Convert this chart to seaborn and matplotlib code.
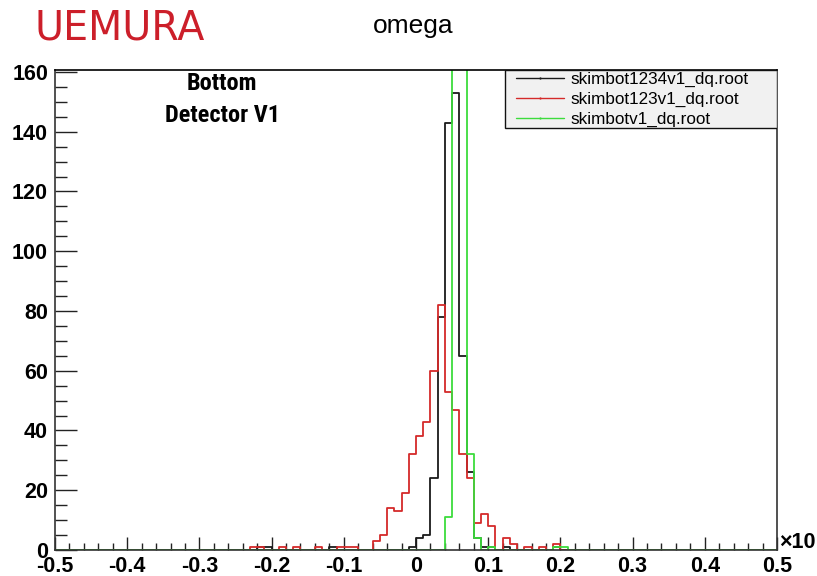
import numpy as np
import pandas as pd
import matplotlib
matplotlib.use("Agg")
import matplotlib.pyplot as plt
from matplotlib.lines import Line2D
from matplotlib.patches import Rectangle
from matplotlib.ticker import MultipleLocator
from matplotlib import font_manager
import seaborn as sns

# ---- histogram data: bin lower edges (bin width 0.01) and counts ----
bin_width = 0.01
x_min, x_max = -0.5, 0.5

black_bins = [-0.22, -0.21, -0.12, -0.01, 0.00, 0.01, 0.02, 0.03, 0.04, 0.05,
              0.06, 0.07, 0.08, 0.09, 0.10, 0.12, 0.19]
black_counts = [1, 1, 1, 1, 4, 5, 24, 78, 143, 153,
                65, 26, 4, 1, 1, 1, 1]

red_bins = [-0.23, -0.22, -0.19, -0.17, -0.14, -0.11, -0.10, -0.09, -0.06, -0.05,
            -0.04, -0.03, -0.02, -0.01, 0.00, 0.01, 0.02, 0.03, 0.04, 0.05,
            0.06, 0.07, 0.08, 0.09, 0.10, 0.12, 0.13, 0.15, 0.17, 0.19]
red_counts = [1, 1, 1, 1, 1, 1, 1, 1, 3, 5,
              14, 13, 19, 32, 38, 43, 60, 82, 53, 47,
              32, 24, 9, 12, 8, 4, 2, 1, 1, 2]

green_bins = [0.04, 0.05, 0.06, 0.07, 0.08, 0.10, 0.19, 0.20]
green_counts = [11, 412, 376, 32, 4, 1, 1, 1]

series_names = ["skimbot1234v1_dq.root", "skimbot123v1_dq.root", "skimbotv1_dq.root"]
series_colors = ["#1a1a1a", "#d42a2a", "#3ddc3d"]

x_ticks = [-0.5, -0.4, -0.3, -0.2, -0.1, 0, 0.1, 0.2, 0.3, 0.4, 0.5]
x_tick_labels = ["-0.5", "-0.4", "-0.3", "-0.2", "-0.1", "0", "0.1", "0.2", "0.3", "0.4", "0.5"]
y_ticks = [0, 20, 40, 60, 80, 100, 120, 140, 160]

# ---- fonts ----
sns.set_theme(style="ticks")
names = {f.name for f in font_manager.fontManager.ttflist}
plt.rcParams["font.family"] = ["Liberation Sans", "DejaVu Sans"]
plt.rcParams["text.color"] = "black"

narrow_family, narrow_stretch = "DejaVu Sans", "condensed"
for cand in ["Liberation Sans Narrow", "Roboto Condensed", "Open Sans Condensed",
             "Noto Sans Condensed", "DejaVu Sans Condensed"]:
    if cand in names:
        narrow_family, narrow_stretch = cand, "normal"
        break

edges = [round(x_min + i * bin_width, 4)
         for i in range(int(round((x_max - x_min) / bin_width)) + 1)]

frames = []
for name, bins, counts in zip(series_names,
                              [black_bins, red_bins, green_bins],
                              [black_counts, red_counts, green_counts]):
    frames.append(pd.DataFrame({"x": np.array(bins, dtype=float) + bin_width / 2,
                                "w": np.array(counts, dtype=float), "file": name}))

fig = plt.figure(figsize=(8.17, 5.76), dpi=100)
ax = fig.add_axes([55 / 817, 1 - 550 / 576, 722 / 817, 480 / 576])

for df, color in zip(frames, series_colors):
    sns.histplot(data=df, x="x", weights="w", bins=edges, element="step",
                 fill=False, color=color, linewidth=1.3, ax=ax)

ax.set_xlim(x_min, x_max)
ax.set_ylim(0, 1.05 * max(black_counts))
ax.set_xlabel("")
ax.set_ylabel("")
ax.set_xticks(x_ticks)
ax.set_xticklabels(x_tick_labels)
ax.set_yticks(y_ticks)
ax.xaxis.set_minor_locator(MultipleLocator(0.02))
ax.yaxis.set_minor_locator(MultipleLocator(5))
ax.tick_params(axis="both", which="both", direction="in", colors="#222222",
               labelcolor="black", width=1.0)
ax.tick_params(axis="x", which="major", length=9.5, pad=4)
ax.tick_params(axis="x", which="minor", length=5)
ax.tick_params(axis="y", which="major", length=15.8, pad=5)
ax.tick_params(axis="y", which="minor", length=8.6)
for lab in ax.get_xticklabels() + ax.get_yticklabels():
    lab.set_fontweight("bold")
    lab.set_fontsize(15.5)

for side, sp in ax.spines.items():
    sp.set_visible(True)
    sp.set_linewidth(1.2)
    sp.set_color("#333333")
ax.spines["top"].set_color("black")

# legend box
ax.add_patch(Rectangle((0.623, 0.879), 0.377, 0.121, transform=ax.transAxes,
                       facecolor="#f1f1f1", edgecolor="#111111", linewidth=1.0,
                       zorder=5))
handles = [Line2D([], [], color=c, lw=1.0, marker=".", markersize=1.2)
           for c in series_colors]
leg = ax.legend(handles, series_names, loc="upper left",
                bbox_to_anchor=(0.636, 1.0), frameon=False, fontsize=12.3,
                handlelength=2.8, handletextpad=0.4, labelspacing=0.3,
                borderpad=0.0, borderaxespad=0.1, numpoints=1)
leg.set_zorder(6)
for t in leg.get_texts():
    t.set_color("black")

# annotations
fig.text(413 / 817, 1 - 26 / 576, "omega", ha="center", va="center",
         fontsize=19, color="black")
fig.text(222 / 817, 1 - 84 / 576, "Bottom", ha="center", va="center",
         fontsize=17.5, fontweight="bold", family=narrow_family,
         fontstretch=narrow_stretch, color="black")
fig.text(222 / 817, 1 - 115 / 576, "Detector V1", ha="center", va="center",
         fontsize=17.5, fontweight="bold", family=narrow_family,
         fontstretch=narrow_stretch, color="black")
fig.text(35 / 817, 1 - 28 / 576, "UEMURA", ha="left", va="center",
         fontsize=28.5, color="#cc1f2a", family=["DejaVu Sans"])
fig.text(779 / 817, 1 - 543 / 576, "×10", ha="left", va="center",
         fontsize=15.5, fontweight="bold", color="black")

fig.savefig("out.png", dpi=100)
